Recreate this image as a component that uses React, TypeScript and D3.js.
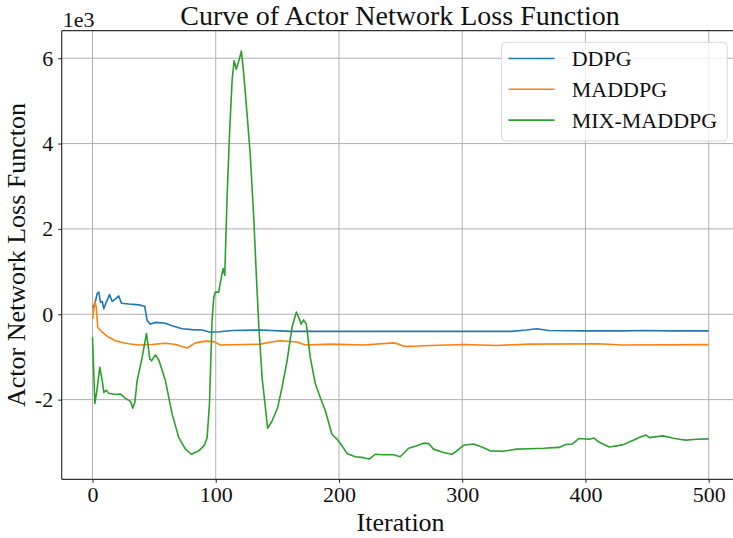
import React, { useEffect, useRef } from 'react';
import * as d3 from 'd3';

// values in units of 1e3
const ddpgIter = [0, 1.9, 3.8, 5.1, 6.5, 7.9, 9.2, 11.1, 13.8, 16, 18.6, 21.3, 23.5, 29.4, 37.5, 42.4, 44.3, 47, 51.1, 59.2, 64.6, 72.7, 80.8, 88.9, 95.7, 103, 113.2, 136.2, 160.5, 200, 250, 300, 340, 352, 360.5, 370, 400, 430, 449, 470, 500];
const ddpgLoss = [0.15, 0.24, 0.49, 0.52, 0.28, 0.3, 0.13, 0.28, 0.46, 0.3, 0.36, 0.43, 0.26, 0.24, 0.22, 0.19, -0.15, -0.23, -0.19, -0.21, -0.27, -0.34, -0.36, -0.37, -0.42, -0.41, -0.38, -0.37, -0.4, -0.4, -0.4, -0.4, -0.4, -0.37, -0.34, -0.38, -0.39, -0.39, -0.38, -0.39, -0.39];

const maddpgIter = [0, 1.9, 3, 4.3, 7.9, 13.2, 18.6, 24, 29.4, 37.5, 48.4, 59.2, 67.3, 76.8, 83.5, 91.6, 98.4, 103.8, 136.2, 145, 152.4, 166, 172.8, 193, 220, 244.3, 248.4, 252.4, 260.5, 274.2, 301, 328, 355, 410, 430, 500];
const maddpgLoss = [-0.11, 0.3, 0.16, -0.31, -0.42, -0.54, -0.62, -0.66, -0.69, -0.72, -0.71, -0.68, -0.71, -0.79, -0.67, -0.63, -0.64, -0.72, -0.7, -0.65, -0.62, -0.65, -0.72, -0.7, -0.72, -0.67, -0.7, -0.75, -0.75, -0.73, -0.71, -0.73, -0.7, -0.69, -0.72, -0.71];

const mixIter = [0, 1.9, 3.5, 5.9, 7.9, 9.2, 11.1, 13.2, 18.6, 22.7, 26.8, 30.8, 32.7, 34.3, 36.2, 40.3, 43.8, 46.5, 47.9, 51.1, 53.8, 59.2, 64.6, 70, 75.4, 80.3, 86.2, 91, 93, 94.9, 97, 98.4, 99.7, 102.4, 104.3, 106, 107.3, 109.2, 111.3, 113.3, 114.9, 116.7, 118.6, 120.8, 122.7, 125.4, 128.1, 130.8, 133, 135, 137.6, 142.1, 145.7, 150.3, 153.8, 157.9, 161.9, 165.4, 167.3, 169.2, 171.3, 173.5, 176.7, 180.8, 184.8, 188.9, 194.3, 198.4, 202.4, 206.5, 213.2, 220, 224.8, 229.4, 236.2, 244.3, 249.7, 256.5, 263.2, 268.6, 272.7, 276.7, 284.8, 291.6, 295.6, 301, 309.1, 315.9, 322.7, 333.4, 344.2, 355, 366, 378.5, 384, 389.3, 394.8, 403, 407, 411.2, 419.4, 430.2, 438.3, 445.1, 449.2, 451.8, 462.6, 470.7, 476.2, 481.6, 490, 500];
const mixLoss = [-0.54, -2.09, -1.8, -1.24, -1.56, -1.83, -1.78, -1.85, -1.88, -1.87, -1.97, -2.04, -2.2, -2.07, -1.56, -1.01, -0.45, -1.05, -1.09, -0.95, -1.07, -1.56, -2.34, -2.89, -3.16, -3.28, -3.2, -3.06, -2.89, -2.1, -0.15, 0.4, 0.52, 0.52, 0.83, 1.07, 0.91, 2.75, 4.31, 5.49, 5.94, 5.74, 5.92, 6.17, 5.64, 4.7, 3.69, 2.28, 0.87, -0.3, -1.48, -2.67, -2.5, -2.18, -1.71, -1.09, -0.3, 0.05, -0.07, -0.23, -0.13, -0.23, -1.01, -1.63, -1.95, -2.26, -2.81, -2.93, -3.08, -3.26, -3.34, -3.36, -3.39, -3.28, -3.29, -3.29, -3.34, -3.14, -3.08, -3.02, -3.03, -3.16, -3.24, -3.28, -3.2, -3.07, -3.04, -3.11, -3.2, -3.21, -3.16, -3.15, -3.14, -3.12, -3.05, -3.04, -2.91, -2.93, -2.9, -3.0, -3.11, -3.06, -2.96, -2.87, -2.83, -2.89, -2.85, -2.9, -2.93, -2.95, -2.93, -2.92];

const seriesNames = ['DDPG', 'MADDPG', 'MIX-MADDPG'];
const seriesColors = ['#1f77b4', '#ff7f0e', '#2ca02c'];
const xTicks = [0, 100, 200, 300, 400, 500];
const yTicks = [-2, 0, 2, 4, 6];

const W = 733;
const H = 538;
const FONT = '"Liberation Serif", "Times New Roman", serif';

const App = () => {
	const ref = useRef<SVGSVGElement>(null);

	useEffect(() => {
		const svg = d3.select(ref.current);
		svg.selectAll('*').remove();

		const left = 61.7;
		const right = 739.5;
		const top = 30.7;
		const bottom = 479.3;

		const x = d3.scaleLinear().domain([-25, 525]).range([left, right]);
		const y = d3.scaleLinear().domain([-3.867, 6.645]).range([bottom, top]);

		svg.append('rect').attr('width', W).attr('height', H).attr('fill', '#fff');

		// grid
		const grid = svg.append('g');
		grid.selectAll('.gx')
			.data(xTicks)
			.enter()
			.append('line')
			.attr('x1', d => x(d))
			.attr('x2', d => x(d))
			.attr('y1', top)
			.attr('y2', bottom)
			.attr('stroke', '#b0b0b0')
			.attr('stroke-width', 1);
		grid.selectAll('.gy')
			.data(yTicks)
			.enter()
			.append('line')
			.attr('x1', left)
			.attr('x2', right)
			.attr('y1', d => y(d))
			.attr('y2', d => y(d))
			.attr('stroke', '#b0b0b0')
			.attr('stroke-width', 1);

		// series
		const series = [
			{ it: ddpgIter, v: ddpgLoss },
			{ it: maddpgIter, v: maddpgLoss },
			{ it: mixIter, v: mixLoss }
		];
		const line = d3
			.line<[number, number]>()
			.x(d => x(d[0]))
			.y(d => y(d[1]));

		series.forEach((s, i) => {
			const pts = s.it.map((t, k) => [t, s.v[k]] as [number, number]);
			svg.append('path')
				.attr('d', line(pts))
				.attr('fill', 'none')
				.attr('stroke', seriesColors[i])
				.attr('stroke-width', 1.6)
				.attr('stroke-linejoin', 'round');
		});

		// axes
		const xAxis = svg
			.append('g')
			.attr('transform', `translate(0, ${bottom})`)
			.call(d3.axisBottom(x).tickValues(xTicks).tickSize(3.5).tickPadding(4).tickSizeOuter(0));
		const yAxis = svg
			.append('g')
			.attr('transform', `translate(${left}, 0)`)
			.call(
				d3
					.axisLeft(y)
					.tickValues(yTicks)
					.tickSize(3.5)
					.tickPadding(5)
					.tickSizeOuter(0)
					.tickFormat(d => String(d))
			);
		[xAxis, yAxis].forEach(a => {
			a.select('.domain').remove();
			a.selectAll('line').attr('stroke', '#222').attr('stroke-width', 1);
			a.selectAll('text')
				.attr('fill', '#111')
				.style('font-family', FONT)
				.style('font-size', '22px');
		});

		// spines
		svg.append('line').attr('x1', left).attr('x2', left).attr('y1', top).attr('y2', bottom).attr('stroke', '#333').attr('stroke-width', 1.2);
		svg.append('line').attr('x1', left).attr('x2', right).attr('y1', bottom).attr('y2', bottom).attr('stroke', '#333').attr('stroke-width', 1.2);
		svg.append('line').attr('x1', left).attr('x2', right).attr('y1', top).attr('y2', top).attr('stroke', '#333').attr('stroke-width', 1.2);

		// texts
		svg.append('text')
			.attr('x', 400)
			.attr('y', 25)
			.attr('text-anchor', 'middle')
			.style('font-family', FONT)
			.style('font-size', '28px')
			.attr('fill', '#111')
			.text('Curve of Actor Network Loss Function');

		svg.append('text')
			.attr('x', left + 1)
			.attr('y', 26.5)
			.style('font-family', FONT)
			.style('font-size', '22px')
			.attr('fill', '#111')
			.text('1e3');

		svg.append('text')
			.attr('x', (left + right) / 2)
			.attr('y', 531)
			.attr('text-anchor', 'middle')
			.style('font-family', FONT)
			.style('font-size', '26px')
			.attr('fill', '#111')
			.text('Iteration');

		svg.append('text')
			.attr('transform', `translate(25, ${(top + bottom) / 2}) rotate(-90)`)
			.attr('text-anchor', 'middle')
			.style('font-family', FONT)
			.style('font-size', '26px')
			.attr('fill', '#111')
			.text('Actor Network Loss Functon');

		// legend
		const lg = svg.append('g');
		lg.append('rect')
			.attr('x', 501.7)
			.attr('y', 42.3)
			.attr('width', 225.5)
			.attr('height', 98.7)
			.attr('rx', 4)
			.attr('fill', 'rgba(255,255,255,0.8)')
			.attr('stroke', '#d9d9d9')
			.attr('stroke-width', 1);
		seriesNames.forEach((name, i) => {
			const cy = 58.5 + i * 30.8;
			lg.append('line')
				.attr('x1', 508.5)
				.attr('x2', 554.5)
				.attr('y1', cy)
				.attr('y2', cy)
				.attr('stroke', seriesColors[i])
				.attr('stroke-width', 1.6);
			lg.append('text')
				.attr('x', 571.7)
				.attr('y', cy + 7.5)
				.style('font-family', FONT)
				.style('font-size', '22px')
				.attr('fill', '#111')
				.text(name);
		});
	}, []);

	return (
		<svg
			ref={ref}
			width={W}
			height={H}
			style={{ position: 'fixed', left: 0, top: 0, display: 'block' }}
		/>
	);
};

export default App;
